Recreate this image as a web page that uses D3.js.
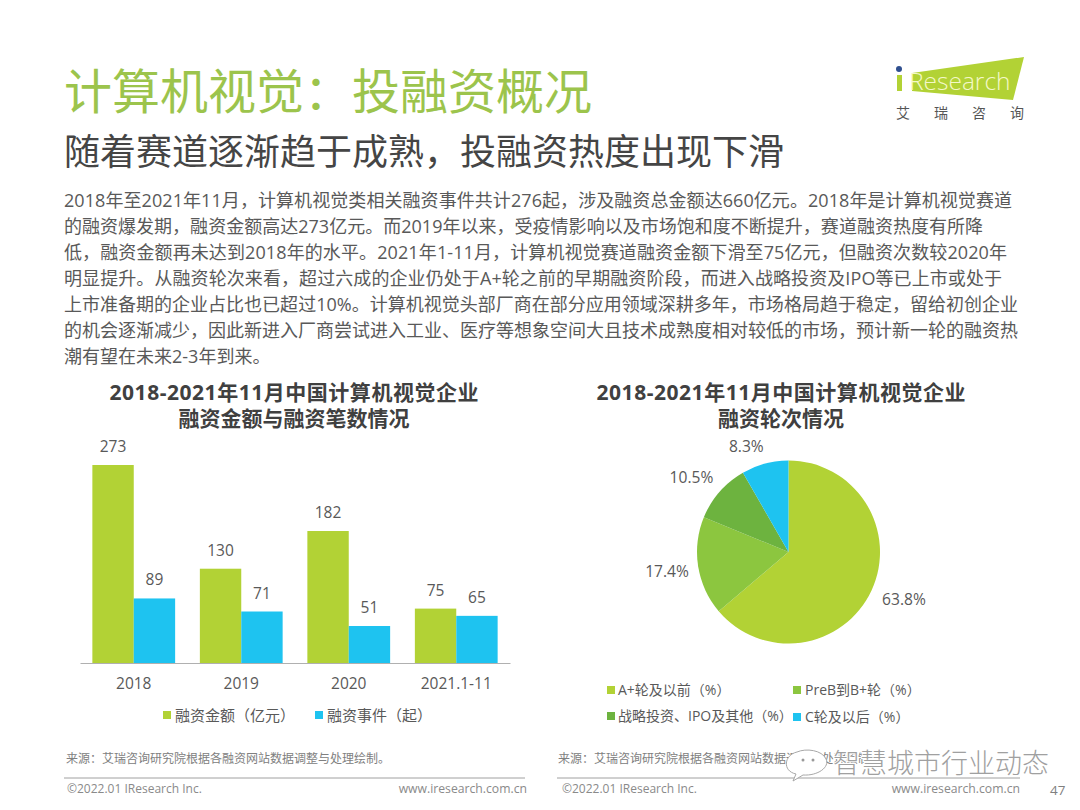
<!DOCTYPE html>
<html>
<head>
<meta charset="utf-8">
<script src="https://cdn.jsdelivr.net/npm/d3@7"></script>
<style>
  html, body { margin: 0; padding: 0; background: #fff; }
  svg { display: block; }
  text { font-family: "Open Sans", "Noto Sans CJK SC", sans-serif; }
</style>
</head>
<body>
<svg></svg>
<script>
const years = ['2018', '2019', '2020', '2021.1-11'];
const seriesNames = ['融资金额（亿元）', '融资事件（起）'];
const amounts = [273, 130, 182, 75];
const events = [89, 71, 51, 65];
const rounds = ['A+轮及以前（%）', 'PreB到B+轮（%）', '战略投资、IPO及其他（%）', 'C轮及以后（%）'];
const shares = [63.8, 17.4, 10.5, 8.3];

const titleText = '计算机视觉：投融资概况';
const subtitleText = '随着赛道逐渐趋于成熟，投融资热度出现下滑';
const bodyLines = [
    '2018年至2021年11月，计算机视觉类相关融资事件共计276起，涉及融资总金额达660亿元。2018年是计算机视觉赛道',
    '的融资爆发期，融资金额高达273亿元。而2019年以来，受疫情影响以及市场饱和度不断提升，赛道融资热度有所降',
    '低，融资金额再未达到2018年的水平。2021年1-11月，计算机视觉赛道融资金额下滑至75亿元，但融资次数较2020年',
    '明显提升。从融资轮次来看，超过六成的企业仍处于A+轮之前的早期融资阶段，而进入战略投资及IPO等已上市或处于',
    '上市准备期的企业占比也已超过10%。计算机视觉头部厂商在部分应用领域深耕多年，市场格局趋于稳定，留给初创企业',
    '的机会逐渐减少，因此新进入厂商尝试进入工业、医疗等想象空间大且技术成熟度相对较低的市场，预计新一轮的融资热',
    '潮有望在未来2-3年到来。'
];
const barTitle = ['2018-2021年11月中国计算机视觉企业', '融资金额与融资笔数情况'];
const pieTitle = ['2018-2021年11月中国计算机视觉企业', '融资轮次情况'];
const sourceText = '来源：艾瑞咨询研究院根据各融资网站数据调整与处理绘制。';

const size = {w: 1080, h: 810};
const green = '#b2d235', blue = '#1ec3f0';
const pieColors = [green, '#8cc63f', '#6db33f', blue];
const textGray = '#595959';

const svg = d3.select('svg').attr('width', size.w).attr('height', size.h);

function addText(parent, str, x, y, fs, fill, anchor = 'start', weight = 400) {
    return parent.append('text')
        .attr('x', x).attr('y', y)
        .attr('font-size', fs)
        .attr('font-weight', weight)
        .attr('fill', fill)
        .attr('text-anchor', anchor)
        .text(str);
}

// --------- HEADER ----------
addText(svg, titleText, 64, 109, 48, '#9cc44c');
addText(svg, subtitleText, 64, 165, 36, '#454545');

// the reference lines are not all the same width, last line runs free
const bodyWidths = [948, 919, 943, 938, 954, 954, null];
bodyLines.forEach((line, i) => {
    const t = addText(svg, line, 64, 207 + i * 26, 18, textGray);
    if (bodyWidths[i]) t.attr('textLength', bodyWidths[i]).attr('lengthAdjust', 'spacing');
});

// logo
const logo = svg.append('g');
logo.append('path').attr('d', 'M912,73L1024,57L1013,100L912,91Z').attr('fill', green);
logo.append('rect').attr('x', 897).attr('y', 75).attr('width', 5).attr('height', 16).attr('fill', green);
logo.append('circle').attr('cx', 899).attr('cy', 69).attr('r', 3).attr('fill', '#2f4f8f');
addText(logo, 'Research', 909, 90, 24.5, '#f4f8c8').attr('font-weight', 300);
addText(logo, '艾', 896, 118, 14, '#555');
addText(logo, '瑞', 934, 118, 14, '#555');
addText(logo, '咨', 972, 118, 14, '#555');
addText(logo, '询', 1010, 118, 14, '#555');

// --------- BAR CHART ----------
const barG = svg.append('g');
barTitle.forEach((t, i) => {
    const el = addText(barG, t, 294, 400 + i * 26, 21, '#404040', 'middle', 700);
    if (i === 0) el.attr('textLength', 369).attr('lengthAdjust', 'spacing');
});

const x0 = d3.scaleBand().domain(years).range([80, 510]).paddingInner(0.23).paddingOuter(0.115);
const x1 = d3.scaleBand().domain(seriesNames).range([0, x0.bandwidth()]);
const y = d3.scaleLinear().domain([0, 273]).range([663, 465]);

const xAxis = d3.axisBottom(x0).tickSize(0).tickPadding(15);
const axisG = barG.append('g').attr('transform', `translate(0, ${y(0)})`).call(xAxis);
axisG.select('.domain').attr('stroke', '#b0b0b0').attr('stroke-width', 1);
axisG.selectAll('text')
    .attr('font-size', 15.5)
    .attr('font-family', '"Open Sans", "Noto Sans CJK SC", sans-serif')
    .attr('fill', textGray);

[amounts, events].forEach((values, s) => {
    const key = seriesNames[s];
    barG.selectAll(`rect.s${s}`)
        .data(values)
        .join('rect')
        .classed(`s${s}`, true)
        .attr('x', (d, i) => x0(years[i]) + x1(key))
        .attr('y', d => y(d))
        .attr('width', x1.bandwidth())
        .attr('height', d => y(0) - y(d))
        .attr('fill', s === 0 ? green : blue);
    barG.selectAll(`text.l${s}`)
        .data(values)
        .join('text')
        .classed(`l${s}`, true)
        .attr('x', (d, i) => x0(years[i]) + x1(key) + x1.bandwidth() / 2)
        .attr('y', d => y(d) - 13)
        .attr('text-anchor', 'middle')
        .attr('font-size', 15.5)
        .attr('fill', textGray)
        .text(d => d);
});

// bar legend
[{x: 163, c: green}, {x: 315, c: blue}].forEach((p, i) => {
    barG.append('rect').attr('x', p.x).attr('y', 711).attr('width', 8).attr('height', 8).attr('fill', p.c);
    addText(barG, seriesNames[i], p.x + 12, 721, 15, textGray);
});

// --------- PIE CHART ----------
const pieG = svg.append('g');
pieTitle.forEach((t, i) => {
    const el = addText(pieG, t, 781, 400 + i * 26, 21, '#404040', 'middle', 700);
    if (i === 0) el.attr('textLength', 369).attr('lengthAdjust', 'spacing');
});

const center = [788.5, 552];
const pie = d3.pie().sort(null)(shares);
const arc = d3.arc().innerRadius(0).outerRadius(91.5);
const labelArc = d3.arc().innerRadius(125).outerRadius(125);
// nudges for the labels, the original has them hand placed
const labelNudge = [[2, -5], [2, 0], [-3, 8], [-10, 15]];

const slices = pieG.append('g').attr('transform', `translate(${center[0]}, ${center[1]})`);
slices.selectAll('path')
    .data(pie)
    .join('path')
    .attr('d', arc)
    .attr('fill', (d, i) => pieColors[i]);
slices.selectAll('text')
    .data(pie)
    .join('text')
    .attr('x', (d, i) => labelArc.centroid(d)[0] + labelNudge[i][0])
    .attr('y', (d, i) => labelArc.centroid(d)[1] + labelNudge[i][1])
    .attr('dy', '0.35em')
    .attr('text-anchor', 'middle')
    .attr('font-size', 15.6)
    .attr('fill', textGray)
    .text(d => d.value.toFixed(1) + '%');

// pie legend
const legendPos = [[607, 690], [793, 690], [607, 716], [793, 717]];
rounds.forEach((r, i) => {
    const [lx, ly] = legendPos[i];
    pieG.append('rect').attr('x', lx).attr('y', ly - 4).attr('width', 8).attr('height', 8).attr('fill', pieColors[i]);
    addText(pieG, r, lx + (i % 2 ? 12 : 11), ly + 5, 14, textGray);
});

// --------- FOOTER ----------
[[64, 525, 66, 67, 527], [557, 1020, 558, 562, 1020]].forEach(f => {
    addText(svg, sourceText, f[2], 763, 12, '#808080');
    svg.append('line').attr('x1', f[0]).attr('x2', f[1]).attr('y1', 778).attr('y2', 778)
        .attr('stroke', '#a0a0a0').attr('stroke-width', 1);
    addText(svg, '©2022.01 IResearch Inc.', f[3], 793, 12, '#8a8a8a');
    addText(svg, 'www.iresearch.com.cn', f[4], 793, 12.2, '#8a8a8a', 'end');
});
addText(svg, '47', 1050, 795, 13.5, '#808080');

// watermark over the right source line
const mark = svg.append('g');
mark.append('path')
    .attr('d', 'M797,752C784,755 782,771 796,774L793,781L803,775C818,776 830,767 826,759C822,750 806,748 797,752Z')
    .attr('fill', '#fff').attr('stroke', '#a8a8a8').attr('stroke-width', 1);
mark.append('circle').attr('cx', 803).attr('cy', 760).attr('r', 1.5).attr('fill', '#999');
mark.append('circle').attr('cx', 813).attr('cy', 760).attr('r', 1.5).attr('fill', '#999');
addText(mark, '智慧城市行业动态', 833, 773, 27, '#a0a0a0')
    .attr('font-weight', 300)
    .attr('stroke', '#fff').attr('stroke-width', 2).attr('paint-order', 'stroke');
</script>
</body>
</html>
